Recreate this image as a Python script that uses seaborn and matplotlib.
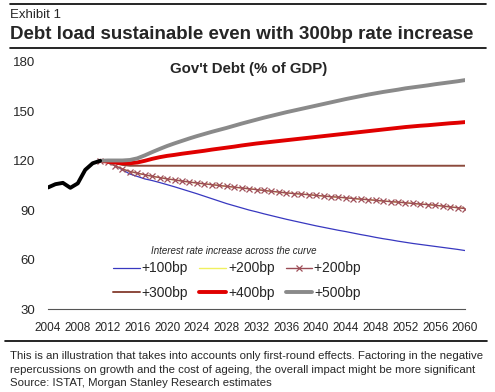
import numpy as np
import pandas as pd
import seaborn as sns
import matplotlib.pyplot as plt

# historical debt, % of GDP
hist_years = [2004, 2005, 2006, 2007, 2008, 2009, 2010, 2011]
hist_debt = [103.8, 105.8, 106.6, 103.6, 106.3, 114.5, 118.5, 120.0]

# projections 2011-2060
proj_years = list(range(2011, 2061))
bp100 = [120, 119, 117, 114.5, 112, 110.5, 109, 108, 106.8, 105.5,
         104.2, 102.8, 101.4, 100, 98.5, 97, 95.5, 94, 92.7, 91.4,
         90.1, 89, 87.8, 86.7, 85.6, 84.5, 83.5, 82.5, 81.5, 80.5,
         79.6, 78.7, 77.8, 77, 76.1, 75.2, 74.4, 73.5, 72.7, 72,
         71.2, 70.5, 69.8, 69.2, 68.6, 68, 67.4, 66.8, 66.2, 65.5]
bp200 = [120, 119, 117, 115, 113.5, 112.5, 111.5, 110.6, 109.8, 109,
         108.4, 107.7, 107.1, 106.5, 106, 105.5, 105, 104.5, 104, 103.5,
         103, 102.5, 102, 101.5, 101, 100.5, 100.1, 99.8, 99.4, 99,
         98.6, 98.2, 97.9, 97.5, 97.1, 96.7, 96.4, 96, 95.6, 95.2,
         94.9, 94.5, 94.1, 93.7, 93.4, 93, 92.5, 92, 91.5, 91]
bp300 = [120, 119.5, 118.5, 117.5, 117, 117, 117, 117, 117, 117,
         117, 117, 117, 117, 117, 117, 117, 117, 117, 117,
         117, 117, 117, 117, 117, 117, 117, 117, 117, 117,
         117, 117, 117, 117, 117, 117, 117, 117, 117, 117,
         117, 117, 117, 117, 117, 117, 117, 117, 117, 117]
bp400 = [120, 119.5, 119, 118.5, 118.5, 119, 120, 121.2, 122.2, 123,
         123.6, 124.3, 124.9, 125.5, 126.1, 126.8, 127.4, 128, 128.6, 129.3,
         129.9, 130.5, 131, 131.5, 132, 132.5, 133, 133.5, 134, 134.5,
         135, 135.5, 136, 136.5, 137, 137.5, 138, 138.5, 139, 139.5,
         140, 140.5, 140.9, 141.3, 141.6, 142, 142.4, 142.8, 143.1, 143.5]
bp500 = [120, 120.2, 120.2, 120.2, 120.5, 121.5, 123.3, 125.3, 127.2, 129,
         130.6, 132.1, 133.6, 135, 136.3, 137.6, 138.8, 140, 141.3, 142.6,
         143.8, 145, 146.2, 147.3, 148.4, 149.5, 150.5, 151.5, 152.5, 153.5,
         154.5, 155.5, 156.5, 157.5, 158.4, 159.3, 160.2, 161, 161.8, 162.5,
         163.2, 164, 164.6, 165.2, 165.8, 166.5, 167.1, 167.7, 168.3, 169]

xticks = list(range(2004, 2061, 4))
yticks = [30, 60, 90, 120, 150, 180]

sns.set_style("white")
plt.rcParams['font.family'] = ['Liberation Sans', 'DejaVu Sans']

fig = plt.figure(figsize=(4.95, 3.92), dpi=100)
ax = fig.add_axes([48 / 495, 1 - 309 / 392, 417 / 495, 247 / 392])

hist = pd.DataFrame({'year': hist_years, 'debt': hist_debt})
sns.lineplot(data=hist, x='year', y='debt', color='black', linewidth=2.8,
             ax=ax, zorder=6)

series = [
    ('+100bp', bp100, dict(color='#3838c0', linewidth=0.9)),
    ('+200bp', bp200, dict(color='#f0f060', linewidth=1.0)),
    ('+200bp ', bp200, dict(color='#9a4b55', linewidth=1.0, marker='x',
                            markersize=4, markeredgewidth=0.9,
                            markeredgecolor='#a0505a')),
    ('+300bp', bp300, dict(color='#8c4a3c', linewidth=1.4)),
    ('+400bp', bp400, dict(color='#e00000', linewidth=2.8)),
    ('+500bp', bp500, dict(color='#8a8a8a', linewidth=2.8)),
]
for name, vals, style in series:
    d = pd.DataFrame({'year': proj_years, 'debt': vals})
    sns.lineplot(data=d, x='year', y='debt', label=name, ax=ax, **style)

ax.set_xlim(2004, 2060)
ax.set_ylim(30, 180)
ax.set_xticks(xticks)
ax.set_yticks(yticks)
ax.set_xlabel('')
ax.set_ylabel('')
ax.tick_params(axis='x', labelsize=8.5, direction='inout', length=5,
               width=0.8, color='#555555', pad=7)
ax.tick_params(axis='y', labelsize=9.5, length=0, pad=9)
sns.despine(ax=ax, left=True)
ax.spines['bottom'].set_color('#555555')
ax.spines['bottom'].set_linewidth(0.8)

ax.text(0.482, 1.0, "Gov't Debt (% of GDP)", transform=ax.transAxes,
        ha='center', va='top', fontsize=10.8, fontweight='bold')

# row-wise legend order for a 3-column layout
handles, labels = ax.get_legend_handles_labels()
order = [0, 3, 1, 4, 2, 5]
leg = ax.legend([handles[i] for i in order], [labels[i] for i in order],
                ncol=3, frameon=False, loc='center',
                bbox_to_anchor=(0.458, 0.115), fontsize=10,
                handlelength=1.9, columnspacing=0.8, labelspacing=0.75,
                handletextpad=0.15)
ax.text(0.446, 0.235, 'Interest rate increase across the curve',
        transform=ax.transAxes, ha='center', va='center', fontsize=7,
        fontstyle='italic')

# header and footer
fig.add_artist(plt.Line2D([10 / 495, 486 / 495], [1 - 4 / 392] * 2,
                          color='black', linewidth=1.2))
fig.add_artist(plt.Line2D([10 / 495, 486 / 495], [1 - 48 / 392] * 2,
                          color='black', linewidth=1.2))
fig.add_artist(plt.Line2D([5 / 495, 487 / 495], [1 - 341 / 392] * 2,
                          color='black', linewidth=1.2))
fig.text(10 / 495, 1 - 18 / 392, 'Exhibit 1', fontsize=9.5)
fig.text(10 / 495, 1 - 39 / 392,
         'Debt load sustainable even with 300bp rate increase',
         fontsize=13.5, fontweight='bold')
fig.text(10 / 495, 1 - 386 / 392,
         'This is an illustration that takes into accounts only first-round '
         'effects. Factoring in the negative\n'
         'repercussions on growth and the cost of ageing, the overall impact '
         'might be more significant\n'
         'Source: ISTAT, Morgan Stanley Research estimates',
         fontsize=8.2, linespacing=1.42)

fig.savefig('out.png', dpi=100)
